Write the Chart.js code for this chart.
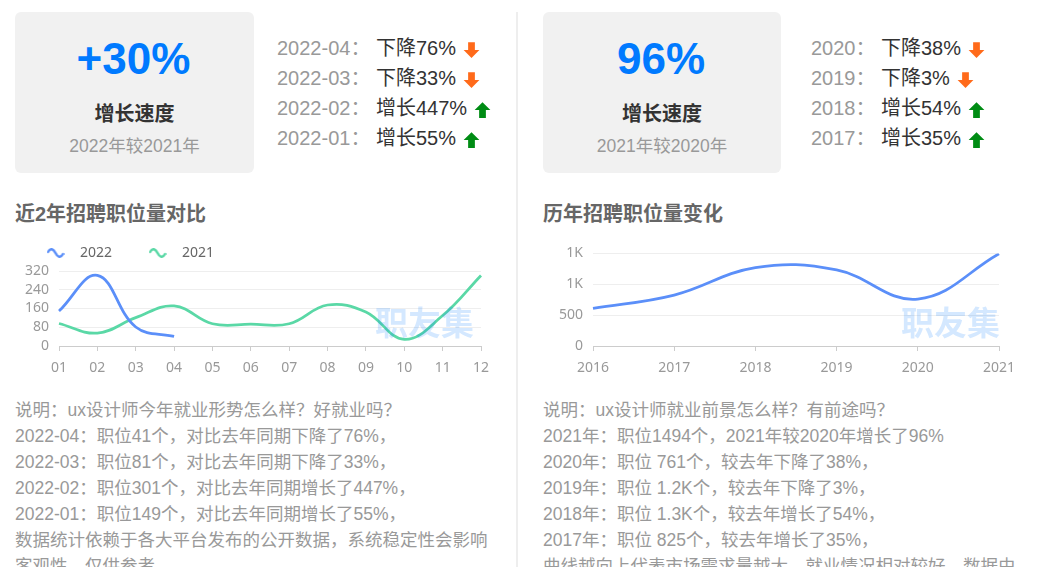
<!DOCTYPE html>
<html>
<head>
<meta charset="utf-8">
<script src="https://cdn.jsdelivr.net/npm/chart.js@4"></script>
<style>
html, body { margin: 0; padding: 0; background: #fff; width: 1040px; height: 567px; overflow: hidden; }
body { position: relative; font-family: "Liberation Sans", "Noto Sans CJK SC", sans-serif; }
.abs { position: absolute; white-space: nowrap; }
.card { position: absolute; top: 12px; height: 161px; background: #f1f1f1; border-radius: 6px; text-align: center; }
.card div { position: absolute; left: 0; right: 0; }
.big { top: 19px; left: -2px !important; font-size: 44px; line-height: 56px; font-weight: bold; color: #007aff; }
.name { top: 88px; font-size: 20px; line-height: 28px; font-weight: bold; color: #333; }
.cmp { top: 121px; font-size: 17.5px; line-height: 26px; color: #999; }
.row { font-size: 20px; line-height: 30px; height: 30px; }
.row .k { color: #999; }
.row .v { color: #333; }
.row svg { margin-left: 7px; vertical-align: -4px; }
.title { top: 200px; font-size: 20px; line-height: 28px; font-weight: bold; color: #666; }
.note { top: 397px; font-size: 17.5px; line-height: 26px; color: #999; }
.divider { position: absolute; left: 516px; top: 12px; width: 2px; height: 555px; background: #eee; }
.mark { top: 299px; font-size: 33px; line-height: 44px; font-weight: bold; color: #007aff; opacity: .17; font-family: "Noto Sans CJK SC", sans-serif; }
canvas { position: absolute; }
</style>
</head>
<body>
<div class="card" style="left:15px;width:239px"><div class="big">+30%</div><div class="name">增长速度</div><div class="cmp">2022年较2021年</div></div>
<div class="card" style="left:543px;width:238px"><div class="big">96%</div><div class="name">增长速度</div><div class="cmp">2021年较2020年</div></div>
<div class="divider"></div>
<div class="abs title" style="left:15px">近2年招聘职位量对比</div>
<div class="abs title" style="left:543px">历年招聘职位量变化</div>
<canvas id="monthChart" style="left:0;top:218px;width:510px;height:162px"></canvas>
<canvas id="yearChart" style="left:530px;top:235px;width:510px;height:145px"></canvas>
<div class="abs mark" style="left:375px">职友集</div>
<div class="abs mark" style="left:901px">职友集</div>
<div class="abs note" style="left:15px" id="noteLeft"></div>
<div class="abs note" style="left:543px" id="noteRight"></div>
<script>
const months = ['01', '02', '03', '04', '05', '06', '07', '08', '09', '10', '11', '12'];
const jobs2022 = [149, 301, 81, 41];
const jobs2021 = [96, 55, 121, 171, 95, 93, 95, 175, 145, 28, 130, 301];
const years = ['2016', '2017', '2018', '2019', '2020', '2021'];
const jobsByYear = [611, 825, 1270, 1232, 761, 1494];
const yearTickText = { 0: '0', 500: '500', 1000: '1K', 1500: '1K' };

const monthRows = [['2022-04：', '下降76%', 'down'], ['2022-03：', '下降33%', 'down'], ['2022-02：', '增长447%', 'up'], ['2022-01：', '增长55%', 'up']];
const yearRows = [['2020：', '下降38%', 'down'], ['2019：', '下降3%', 'down'], ['2018：', '增长54%', 'up'], ['2017：', '增长35%', 'up']];
const noteLeft = [
    '说明：ux设计师今年就业形势怎么样？好就业吗？',
    '2022-04：职位41个，对比去年同期下降了76%，',
    '2022-03：职位81个，对比去年同期下降了33%，',
    '2022-02：职位301个，对比去年同期增长了447%，',
    '2022-01：职位149个，对比去年同期增长了55%，',
    '数据统计依赖于各大平台发布的公开数据，系统稳定性会影响',
    '客观性，仅供参考。'
];
const noteRight = [
    '说明：ux设计师就业前景怎么样？有前途吗？',
    '2021年：职位1494个，2021年较2020年增长了96%',
    '2020年：职位 761个，较去年下降了38%，',
    '2019年：职位 1.2K个，较去年下降了3%，',
    '2018年：职位 1.3K个，较去年增长了54%，',
    '2017年：职位 825个，较去年增长了35%，',
    '曲线越向上代表市场需求量越大，就业情况相对较好，数据由'
];

const arrowSvg = {
    down: '<svg width="17" height="18" viewBox="0 0 15 16"><path d="M4.5 1h6v7h4l-7 7-7-7h4z" fill="#ff6a1a"/></svg>',
    up: '<svg width="17" height="18" viewBox="0 0 15 16"><path d="M7.5 1l7 7h-4v7h-6v-7h-4z" fill="#008c14"/></svg>'
};

function addRows(rows, keyLeft, valueLeft) {
    rows.forEach((r, i) => {
        const top = 33 + i * 30;
        document.body.insertAdjacentHTML('beforeend',
            `<div class="abs row" style="left:${keyLeft}px;top:${top}px"><span class="k">${r[0]}</span></div>` +
            `<div class="abs row" style="left:${valueLeft}px;top:${top}px"><span class="v">${r[1]}</span>${arrowSvg[r[2]]}</div>`);
    });
}
addRows(monthRows, 277, 376);
addRows(yearRows, 811, 881);
document.getElementById('noteLeft').innerHTML = noteLeft.join('<br>');
document.getElementById('noteRight').innerHTML = noteRight.join('<br>');

// small wave used as legend symbol
function waveIcon(color) {
    const c = document.createElement('canvas');
    c.width = 18; c.height = 10;
    const g = c.getContext('2d');
    g.strokeStyle = color;
    g.lineWidth = 2.5;
    g.lineCap = 'round';
    g.beginPath();
    g.moveTo(1.5, 4);
    g.bezierCurveTo(4, -0.5, 7, 1, 9, 5);
    g.bezierCurveTo(11, 9, 14, 10.5, 16.5, 6);
    g.stroke();
    return c;
}

// legend needs wide gaps between items but a short box
const legendHeight = {
    id: 'legendHeight',
    beforeInit(chart) {
        const fit = chart.legend.fit;
        chart.legend.fit = function () {
            fit.call(this);
            this.height = 53;
        };
    }
};

function xAxis(height) {
    return {
        afterFit(s) { s.height = height; },
        border: { color: '#ccc' },
        grid: { drawOnChartArea: false, drawTicks: true, tickLength: 5, tickColor: '#ccc' },
        ticks: { color: '#999', font: { family: 'Noto Sans', size: 14 }, padding: 9, maxRotation: 0, autoSkip: false }
    };
}
function yAxis(width, max, step, fmt) {
    return {
        min: 0, max: max,
        afterFit(s) { s.width = width; },
        border: { display: false },
        grid: { color: '#eee', drawTicks: false },
        ticks: { stepSize: step, autoSkip: false, color: '#999', font: { family: 'Noto Sans', size: 14 }, padding: 10, callback: fmt }
    };
}

new Chart(document.getElementById('monthChart'), {
    type: 'line',
    data: {
        labels: months,
        datasets: [
            { label: '2022', data: jobs2022, borderColor: '#5b8ff9', backgroundColor: '#5b8ff9', borderWidth: 2.75, tension: 0.4, pointRadius: 0, pointStyle: waveIcon('#5b8ff9') },
            { label: '2021', data: jobs2021, borderColor: '#5ad8a6', backgroundColor: '#5ad8a6', borderWidth: 2.75, tension: 0.4, pointRadius: 0, pointStyle: waveIcon('#5ad8a6') }
        ]
    },
    options: {
        responsive: false,
        animation: false,
        layout: { padding: { left: 10, right: 29 } },
        plugins: {
            tooltip: { enabled: false },
            legend: {
                position: 'top',
                align: 'start',
                labels: { usePointStyle: true, pointStyleWidth: 35, padding: 28, color: '#666', font: { family: 'Noto Sans', size: 14 } }
            }
        },
        scales: {
            x: xAxis(34),
            y: yAxis(49, 320, 80, v => v)
        }
    },
    plugins: [legendHeight]
});

new Chart(document.getElementById('yearChart'), {
    type: 'line',
    data: {
        labels: years,
        datasets: [
            { label: '职位量', data: jobsByYear, borderColor: '#5b8ff9', borderWidth: 2.75, tension: 0.4, pointRadius: 0 }
        ]
    },
    options: {
        responsive: false,
        animation: false,
        layout: { padding: { top: 17.5, right: 41 } },
        plugins: { legend: { display: false }, tooltip: { enabled: false } },
        scales: {
            x: xAxis(34),
            y: yAxis(63, 1500, 500, v => yearTickText[v])
        }
    }
});
</script>
</body>
</html>
